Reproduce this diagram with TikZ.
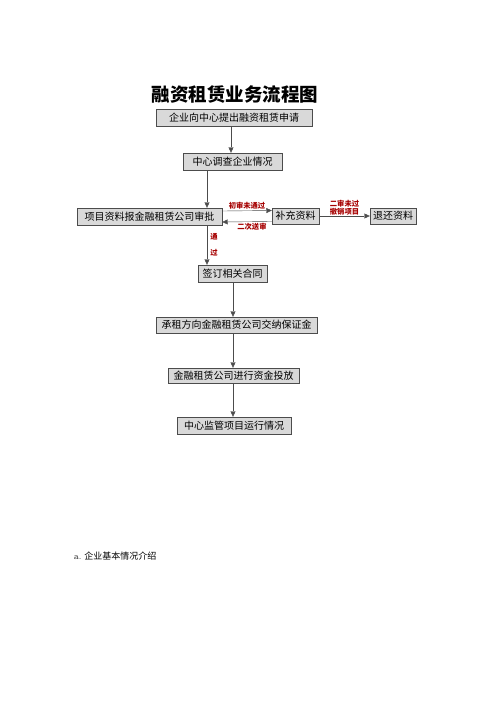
\documentclass[tikz,border=0pt]{standalone}
\usepackage{fontspec}
\newfontfamily\cjk{Noto Sans CJK SC}
\usetikzlibrary{arrows.meta,shadows}

\begin{document}
\begin{tikzpicture}[x=1pt,y=-1pt,
    flowbox/.style={draw=black!70,fill=black!15,inner sep=0pt,minimum height=17pt,
        font=\cjk\fontsize{10}{12}\selectfont,
        drop shadow={shadow xshift=1.3pt,shadow yshift=-1.3pt,fill=black!65,opacity=1}},
    flow/.style={draw=black!70,-{Triangle[width=5pt,length=5.5pt]}},
    note/.style={text=red!65!black,inner sep=1pt,font=\cjk\bfseries\fontsize{7.3}{8}\selectfont}]
    \useasboundingbox (0,0) rectangle (500,707);

    % Title
    \node[font=\cjk\bfseries\fontsize{18.5}{20}\selectfont] (title) at (235,95) {融资租赁业务流程图};

    % Main steps
    \node[flowbox,minimum width=156pt] (apply) at (234,117.5) {企业向中心提出融资租赁申请};
    \node[flowbox,minimum width=99pt] (survey) at (232.5,161.5) {中心调查企业情况};
    \node[flowbox,minimum width=145pt] (review) at (149.5,216.5) {项目资料报金融租赁公司审批};
    \node[flowbox,minimum width=47pt,minimum height=16pt] (supp) at (295.5,216) {补充资料};
    \node[flowbox,minimum width=46pt,minimum height=16pt] (back) at (393,216) {退还资料};
    \node[flowbox,minimum width=69pt] (sign) at (232.5,273.5) {签订相关合同};
    \node[flowbox,minimum width=161pt,minimum height=16pt] (deposit) at (236.5,325) {承租方向金融租赁公司交纳保证金};
    \node[flowbox,minimum width=131pt,minimum height=15pt] (fund) at (233.5,375.5) {金融租赁公司进行资金投放};
    \node[flowbox,minimum width=114pt] (monitor) at (234,425.5) {中心监管项目运行情况};

    % Columns of the vertical arrows
    \coordinate (colA) at (231,0);
    \coordinate (colB) at (207,0);
    \coordinate (colC) at (233,0);

    % Connections
    \draw[flow] (apply.south -| colA) -- (survey.north -| colA);
    \draw[flow] (survey.south -| colB) -- (review.north -| colB);
    \draw[flow] ([yshift=5.5pt]review.east) -- node[note,above] {初审未通过} ([yshift=5.5pt]supp.west);
    \draw[flow] ([yshift=-5.5pt]supp.west) -- node[note,below,pos=0.4] {二次送审} ([yshift=-5.5pt]review.east);
    \draw[flow] (supp) -- node[note,above,align=center] {二审未过\\撤销项目} (back);
    \draw[flow] (review.south -| colB) -- (sign.north -| colB);
    \draw[flow] (sign.south -| colC) -- (deposit.north -| colC);
    \draw[flow] (deposit.south -| colC) -- (fund.north -| colC);
    \draw[flow] (fund.south -| colC) -- (monitor.north -| colC);

    % Passed labels
    \node[note] (pass1) at (214,237) {通};
    \node[note] (pass2) at (214,253) {过};

    % Footer text
    \node[anchor=west,inner sep=0pt,font=\fontsize{9}{11}\selectfont] (intro) at (74,556) {a.\ {\cjk 企业基本情况介绍}};
\end{tikzpicture}
\end{document}
